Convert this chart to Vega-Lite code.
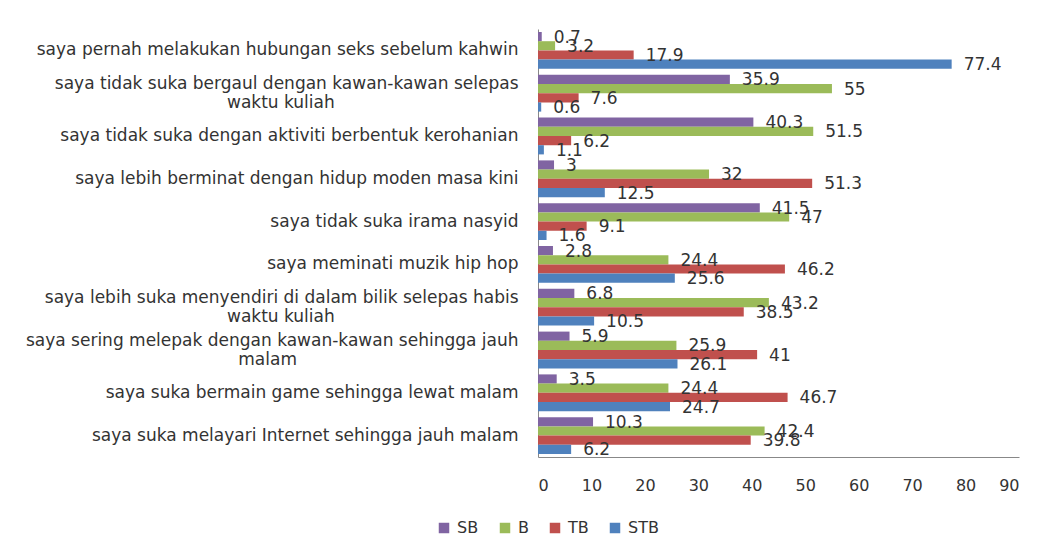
{
  "$schema": "https://vega.github.io/schema/vega-lite/v6.json",
  "width": 481,
  "height": 428,
  "autosize": {"type": "none"},
  "padding": {"left": 538, "top": 29, "right": 21, "bottom": 93},
  "background": "white",
  "config": {
    "font": "DejaVu Sans",
    "view": {"stroke": null},
    "axis": {"labelFont": "DejaVu Sans", "labelColor": "#333333", "labelFontSize": 16, "domainColor": "#888888"}
  },
  "data": {"values": [
    {"cat": "saya pernah melakukan hubungan seks sebelum kahwin", "s": "SB", "v": 0.7},
    {"cat": "saya pernah melakukan hubungan seks sebelum kahwin", "s": "B", "v": 3.2},
    {"cat": "saya pernah melakukan hubungan seks sebelum kahwin", "s": "TB", "v": 17.9},
    {"cat": "saya pernah melakukan hubungan seks sebelum kahwin", "s": "STB", "v": 77.4},
    {"cat": "saya tidak suka bergaul dengan kawan-kawan selepas|waktu kuliah", "s": "SB", "v": 35.9},
    {"cat": "saya tidak suka bergaul dengan kawan-kawan selepas|waktu kuliah", "s": "B", "v": 55},
    {"cat": "saya tidak suka bergaul dengan kawan-kawan selepas|waktu kuliah", "s": "TB", "v": 7.6},
    {"cat": "saya tidak suka bergaul dengan kawan-kawan selepas|waktu kuliah", "s": "STB", "v": 0.6},
    {"cat": "saya tidak suka dengan aktiviti berbentuk kerohanian", "s": "SB", "v": 40.3},
    {"cat": "saya tidak suka dengan aktiviti berbentuk kerohanian", "s": "B", "v": 51.5},
    {"cat": "saya tidak suka dengan aktiviti berbentuk kerohanian", "s": "TB", "v": 6.2},
    {"cat": "saya tidak suka dengan aktiviti berbentuk kerohanian", "s": "STB", "v": 1.1},
    {"cat": "saya lebih berminat dengan hidup moden masa kini", "s": "SB", "v": 3},
    {"cat": "saya lebih berminat dengan hidup moden masa kini", "s": "B", "v": 32},
    {"cat": "saya lebih berminat dengan hidup moden masa kini", "s": "TB", "v": 51.3},
    {"cat": "saya lebih berminat dengan hidup moden masa kini", "s": "STB", "v": 12.5},
    {"cat": "saya tidak suka irama nasyid", "s": "SB", "v": 41.5},
    {"cat": "saya tidak suka irama nasyid", "s": "B", "v": 47},
    {"cat": "saya tidak suka irama nasyid", "s": "TB", "v": 9.1},
    {"cat": "saya tidak suka irama nasyid", "s": "STB", "v": 1.6},
    {"cat": "saya meminati muzik hip hop", "s": "SB", "v": 2.8},
    {"cat": "saya meminati muzik hip hop", "s": "B", "v": 24.4},
    {"cat": "saya meminati muzik hip hop", "s": "TB", "v": 46.2},
    {"cat": "saya meminati muzik hip hop", "s": "STB", "v": 25.6},
    {"cat": "saya lebih suka menyendiri di dalam bilik selepas habis|waktu kuliah", "s": "SB", "v": 6.8},
    {"cat": "saya lebih suka menyendiri di dalam bilik selepas habis|waktu kuliah", "s": "B", "v": 43.2},
    {"cat": "saya lebih suka menyendiri di dalam bilik selepas habis|waktu kuliah", "s": "TB", "v": 38.5},
    {"cat": "saya lebih suka menyendiri di dalam bilik selepas habis|waktu kuliah", "s": "STB", "v": 10.5},
    {"cat": "saya sering melepak dengan kawan-kawan sehingga jauh|malam", "s": "SB", "v": 5.9},
    {"cat": "saya sering melepak dengan kawan-kawan sehingga jauh|malam", "s": "B", "v": 25.9},
    {"cat": "saya sering melepak dengan kawan-kawan sehingga jauh|malam", "s": "TB", "v": 41},
    {"cat": "saya sering melepak dengan kawan-kawan sehingga jauh|malam", "s": "STB", "v": 26.1},
    {"cat": "saya suka bermain game sehingga lewat malam", "s": "SB", "v": 3.5},
    {"cat": "saya suka bermain game sehingga lewat malam", "s": "B", "v": 24.4},
    {"cat": "saya suka bermain game sehingga lewat malam", "s": "TB", "v": 46.7},
    {"cat": "saya suka bermain game sehingga lewat malam", "s": "STB", "v": 24.7},
    {"cat": "saya suka melayari Internet sehingga jauh malam", "s": "SB", "v": 10.3},
    {"cat": "saya suka melayari Internet sehingga jauh malam", "s": "B", "v": 42.4},
    {"cat": "saya suka melayari Internet sehingga jauh malam", "s": "TB", "v": 39.8},
    {"cat": "saya suka melayari Internet sehingga jauh malam", "s": "STB", "v": 6.2}
  ]},
  "encoding": {
    "y": {
      "field": "cat", "type": "nominal", "sort": null,
      "scale": {"paddingInner": 0.14, "paddingOuter": 0.07},
      "axis": {"title": null, "ticks": false, "labelPadding": 20, "labelLimit": 600, "labelFontSize": 17,
        "labelExpr": "indexof(datum.label, '|') >= 0 ? [split(datum.label, '|')[0], pad(split(datum.label, '|')[1], length(split(datum.label, '|')[1]) + (indexof(datum.label, 'melepak') >= 0 ? 41 : 34), '\u00a0', 'right') + '\u200b'] : datum.label",
        "labelOffset": {"condition": {"test": "indexof(datum.label, '|') >= 0", "value": -9}, "value": 0},
        "labelLineHeight": 19}
    },
    "yOffset": {"field": "s", "type": "nominal", "sort": ["SB", "B", "TB", "STB"]},
    "x": {
      "field": "v", "type": "quantitative",
      "scale": {"domain": [0, 90], "nice": false},
      "axis": {"title": null, "values": [0,10,20,30,40,50,60,70,80,90], "grid": false, "ticks": false, "labelPadding": 20, "labelFontSize": 16}
    }
  },
  "layer": [
    {
      "mark": {"type": "bar"},
      "encoding": {
        "color": {
          "field": "s", "type": "nominal",
          "scale": {"domain": ["SB", "B", "TB", "STB"], "range": ["#8064A2", "#9BBB59", "#C0504D", "#4F81BD"]},
          "legend": {"title": null, "orient": "none", "direction": "horizontal", "legendX": -102, "legendY": 491, "symbolType": "square", "symbolSize": 110, "labelFontSize": 16, "labelColor": "#333333", "columnPadding": 18, "labelOffset": 5}
        }
      }
    },
    {
      "mark": {"type": "text", "align": "left", "baseline": "middle", "dx": 12, "dy": 1, "fontSize": 17, "color": "#333333"},
      "encoding": {"text": {"field": "v", "type": "quantitative"}}
    }
  ]
}
